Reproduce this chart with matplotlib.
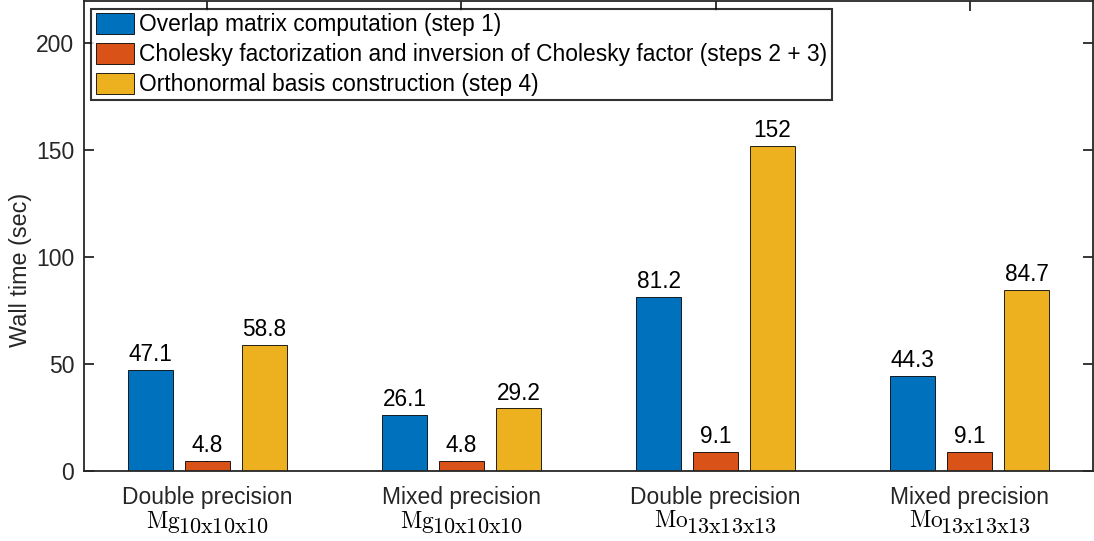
import matplotlib
matplotlib.use("Agg")
import matplotlib.pyplot as plt
import numpy as np

plt.rcParams['font.family'] = ['Liberation Sans', 'DejaVu Sans']
plt.rcParams['mathtext.fontset'] = 'cm'

categories = ["Double precision", "Mixed precision", "Double precision", "Mixed precision"]
systems = ["Mg", "Mg", "Mo", "Mo"]
system_sizes = ["10x10x10", "10x10x10", "13x13x13", "13x13x13"]
series_names = [
    "Overlap matrix computation (step 1)",
    "Cholesky factorization and inversion of Cholesky factor (steps 2 + 3)",
    "Orthonormal basis construction (step 4)",
]
overlap = [47.1, 26.1, 81.2, 44.3]
cholesky = [4.8, 4.8, 9.1, 9.1]
orthonormal = [58.8, 29.2, 152, 84.7]
label_texts = [
    ["47.1", "26.1", "81.2", "44.3"],
    ["4.8", "4.8", "9.1", "9.1"],
    ["58.8", "29.2", "152", "84.7"],
]
colors = ["#0072BD", "#D95319", "#EDB120"]

W, H = 1094, 541
fig = plt.figure(figsize=(W / 100, H / 100), dpi=100)
ax = fig.add_axes([84 / W, 70 / H, 1009 / W, 470 / H])

x = np.arange(1, len(categories) + 1)
width = 0.177
offset = 0.224
axcol = "#262626"
FS = 16.5
for i, (vals, c, name) in enumerate(zip([overlap, cholesky, orthonormal], colors, series_names)):
    pos = x + (i - 1) * offset
    ax.bar(pos, vals, width, color=c, edgecolor="black", linewidth=0.6, label=name, zorder=2)
    for xp, v, t in zip(pos, vals, label_texts[i]):
        ax.text(xp, v + 1.8, t, ha="center", va="bottom", fontsize=16.3, color="black")

ax.set_xlim(0.515, 4.485)
ax.set_ylim(0, 219.5)
ax.set_xticks(x)
ax.set_xticklabels(categories, fontsize=FS, color=axcol)
ax.set_yticks([0, 50, 100, 150, 200])
ax.set_yticklabels(["0", "50", "100", "150", "200"], fontsize=FS, color=axcol)
ax.set_ylabel("Wall time (sec)", fontsize=16.8, color=axcol)
ax.yaxis.set_label_coords(-0.0515, 0.428)
ax.tick_params(direction="in", length=7, width=1.3, top=True, right=True, colors=axcol, pad=7)
ax.tick_params(axis="x", pad=11)
for s in ax.spines.values():
    s.set_color(axcol)
    s.set_linewidth(1.3)

leg = ax.legend(loc="upper left", bbox_to_anchor=(0.007, 0.984), fontsize=16.4,
                frameon=True, fancybox=False, edgecolor="black", handlelength=1.7,
                handleheight=1.05, handletextpad=0.2, borderpad=0.2, labelspacing=0.28,
                borderaxespad=0)
leg.get_frame().set_linewidth(1.5)
for t in leg.get_texts():
    t.set_color("black")

# second line of the category labels: chemical symbol with a full-size lowered subscript
fig.canvas.draw()
renderer = fig.canvas.get_renderer()
for xc, sym, sz in zip(x, systems, system_sizes):
    px = ax.transData.transform((xc, 0))[0]
    t1 = fig.text(0, 0, r"$\mathrm{" + sym + "}$", fontsize=16.8, color="black",
                  ha="left", va="top")
    t2 = fig.text(0, 0, r"$\mathrm{" + sz + "}$", fontsize=16.0, color="black",
                  ha="left", va="top")
    w1 = t1.get_window_extent(renderer).width
    w2 = t2.get_window_extent(renderer).width
    total = w1 - 3 + w2
    x0 = px - total / 2
    t1.set_position((x0 / W, (H - 509) / H))
    t2.set_position(((x0 + w1 - 3) / W, (H - 517) / H))

fig.savefig("out.png", dpi=100)
